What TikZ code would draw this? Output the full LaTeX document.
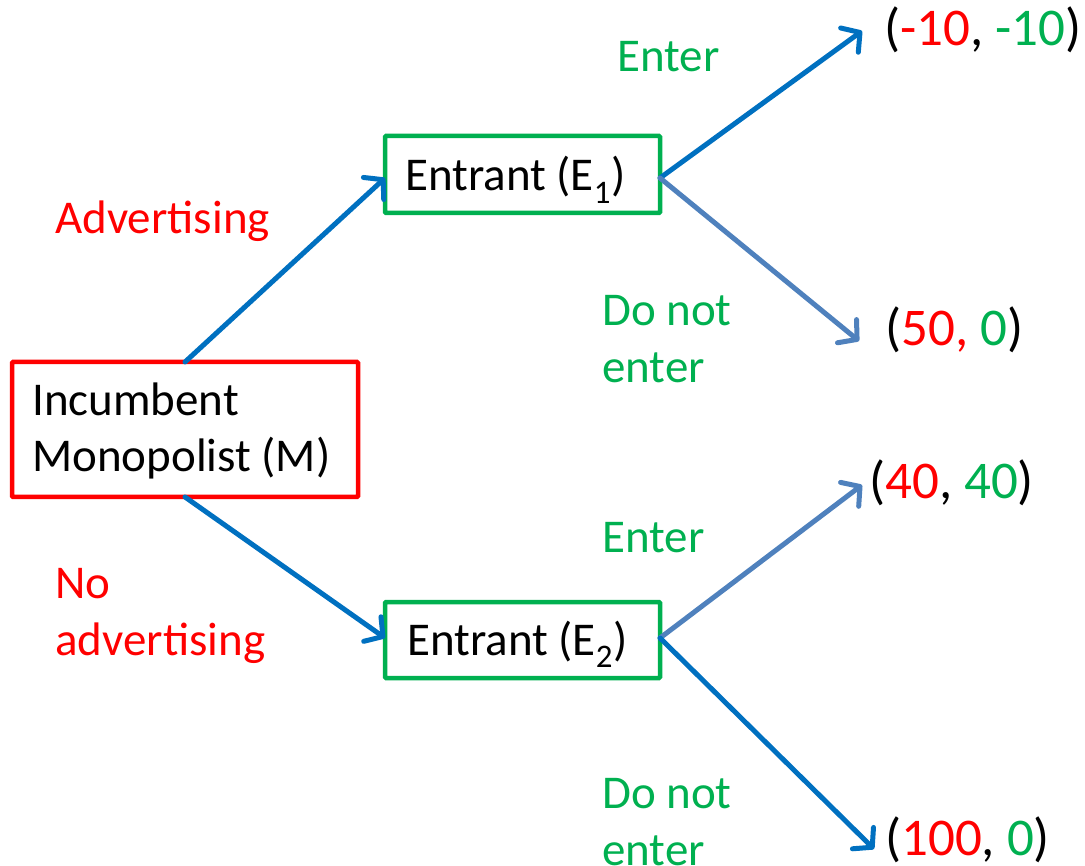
\documentclass[tikz,border=0pt]{standalone}
\usepackage{fontspec}
\setmainfont{Carlito}
\usetikzlibrary{arrows.meta}
\definecolor{cred}{RGB}{255,0,0}
\definecolor{cgreen}{RGB}{0,176,80}
\definecolor{cblue}{RGB}{0,112,192}
\definecolor{csteel}{RGB}{79,129,189}
\begin{document}
\begin{tikzpicture}[x=1pt,y=-1pt,
  every node/.style={font=\fontsize{47}{57}\selectfont, inner sep=0pt},
  box/.style={draw, line width=4.5pt, rounded corners=1pt},
  lbl/.style={anchor=base west, align=left},
  pay/.style={anchor=base west, font=\fontsize{53}{64}\selectfont},
  arr/.style={line width=5pt, -{Straight Barb[length=13pt,width=30pt,line width=5pt,round]}, line cap=round}
]
\useasboundingbox (0,0) rectangle (1085,866);
% boxes
\path[box, draw=cred] (12,362) rectangle (358,497);
\coordinate (Mn) at (185,362);
\coordinate (Ms) at (185,497);
\path[box, draw=cgreen] (385,136) rectangle (660,213);
\coordinate (E1w) at (385,178);
\coordinate (E1e) at (660,178);
\path[box, draw=cgreen] (385,602) rectangle (660,678);
\coordinate (E2w) at (385,638);
\coordinate (E2e) at (660,638);
% box texts
\node[lbl] (mtext) at (32,472) {Incumbent\\Monopolist (M)};
\node[lbl] (e1text) at (405,191) {Entrant (E\textsubscript{1})};
\node[lbl] (e2text) at (407,655) {Entrant (E\textsubscript{2})};
% payoffs
\node[pay] (p1) at (884,46) {(\textcolor{cred}{-10}, \textcolor{cgreen}{-10})};
\node[pay] (p2) at (885,346) {(\textcolor{cred}{50,} \textcolor{cgreen}{0})};
\node[pay] (p3) at (869,499) {(\textcolor{cred}{40}, \textcolor{cgreen}{40})};
\node[pay] (p4) at (885,855) {(\textcolor{cred}{100}, \textcolor{cgreen}{0})};
\coordinate (t1) at (862,31);
\coordinate (t2) at (859,341);
\coordinate (t3) at (862,485);
\coordinate (t4) at (874,849);
% labels
\node[lbl, text=cred] (adv) at (55,234) {Advertising};
\node[lbl, text=cred] (noadv) at (55,655) {No\\advertising};
\node[lbl, text=cgreen] (en1) at (617,72) {Enter};
\node[lbl, text=cgreen] (dn1) at (602,383) {Do not\\enter};
\node[lbl, text=cgreen] (en2) at (602,552) {Enter};
\node[lbl, text=cgreen] (dn2) at (602,865) {Do not\\enter};
% arrows
\draw[arr, cblue] (Mn) -- (E1w);
\draw[arr, cblue] (Ms) -- (E2w);
\draw[arr, cblue] (E1e) -- (t1);
\draw[arr, csteel] (E1e) -- (t2);
\draw[arr, csteel] (E2e) -- (t3);
\draw[arr, cblue] (E2e) -- (t4);
\end{tikzpicture}
\end{document}
